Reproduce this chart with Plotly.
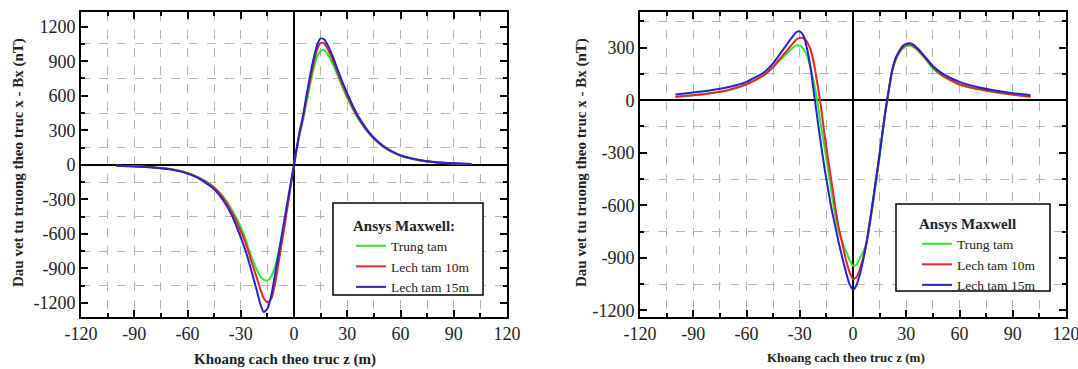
import plotly.graph_objects as go

# ---------------- data ----------------
series_names = ["Trung tam", "Lech tam 10m", "Lech tam 15m"]
series_colors = ["#2ee82e", "#e3262a", "#2424c8"]

z_left = [-100, -90, -80, -70, -65, -60, -55, -50, -45, -40, -35, -30, -27, -24, -21, -19, -17, -15,
          -13, -11, -9, -7, -5, -3, 0, 3, 5, 7, 9, 11, 13, 15, 17, 19, 22, 25, 30, 35,
          40, 45, 50, 55, 60, 70, 80, 90, 100]
left_trung_tam = [-8, -13, -21, -36, -50, -70, -100, -140, -195, -275, -390, -540, -660, -800, -910, -970,
                  -1000, -1005, -975, -900, -790, -640, -470, -290, 0, 250, 380, 540, 690, 830,
                  940, 990, 995, 960, 870, 760, 580, 430, 315, 225, 160, 112, 78, 40, 21, 12, 6]
left_lech_10 = [-8, -13, -22, -37, -52, -72, -103, -145, -200, -285, -410, -575, -690, -840, -980, -1080,
                -1160, -1195, -1170, -1060, -880, -690, -500, -300, 0, 260, 400, 570, 730, 880,
                1000, 1060, 1055, 1005, 905, 785, 600, 440, 320, 228, 162, 114, 80, 42, 22, 12, 6]
left_lech_15 = [-9, -14, -23, -39, -55, -76, -108, -155, -212, -305, -440, -630, -760, -920, -1090, -1210,
                -1280, -1250, -1150, -980, -800, -620, -440, -260, 0, 280, 420, 600, 770, 920,
                1040, 1098, 1090, 1040, 935, 810, 620, 455, 330, 235, 168, 118, 83, 44, 23, 13, 7]

z_right = [-100, -90, -80, -70, -60, -50, -45, -40, -35, -32, -30, -28, -26, -24, -22, -20,
           -18, -16, -14, -12, -10, -8, -6, -4, -2, 0, 2, 4, 6, 8, 10, 12, 14, 16, 18, 20,
           22, 24, 26, 28, 30, 32, 34, 37, 40, 45, 50, 60, 70, 80, 90, 100]
right_trung_tam = [20, 29, 41, 59, 92, 145, 188, 240, 290, 313, 312, 295, 255, 190, 100, -10,
                   -150, -270, -400, -530, -660, -750, -810, -860, -910, -945, -940, -900, -860,
                   -800, -680, -540, -400, -245, -90, 40, 160, 228, 268, 294, 308, 312, 305,
                   280, 244, 182, 140, 88, 62, 45, 31, 21]
right_lech_10 = [19, 28, 40, 58, 91, 145, 190, 250, 310, 345, 356, 355, 335, 290, 210, 90,
                 -40, -200, -340, -470, -610, -730, -820, -910, -980, -1022, -1010, -960, -890,
                 -790, -660, -520, -380, -230, -80, 50, 165, 235, 275, 302, 316, 318, 310,
                 285, 250, 188, 145, 91, 65, 47, 32, 20]
right_lech_15 = [33, 44, 57, 75, 105, 160, 210, 280, 350, 388, 393, 370, 300, 190, 40, -110,
                 -255, -390, -510, -625, -720, -815, -900, -980, -1050, -1082, -1055, -990,
                 -900, -790, -660, -520, -380, -230, -80, 50, 170, 240, 280, 310, 322, 325,
                 318, 290, 255, 195, 155, 105, 75, 55, 40, 29]

x_ticks = [-120, -90, -60, -30, 0, 30, 60, 90, 120]
left_y_ticks = [-1200, -900, -600, -300, 0, 300, 600, 900, 1200]
right_y_ticks = [-1200, -900, -600, -300, 0, 300]

x_title = "Khoang cach theo truc z (m)"
y_title = "Dau vet tu truong theo truc x - Bx (nT)"
left_legend_title = "Ansys Maxwell:"
right_legend_title = "Ansys Maxwell"

# ---------------- figure ----------------
W, H = 1078, 369
FONT = "Liberation Serif"

fig = go.Figure()

left_series = [left_trung_tam, left_lech_10, left_lech_15]
right_series = [right_trung_tam, right_lech_10, right_lech_15]

for name, col, ys in zip(series_names, series_colors, left_series):
    fig.add_trace(go.Scatter(x=z_left, y=ys, mode="lines", name=name,
                             line=dict(color=col, width=2, shape="spline", smoothing=0.6),
                             xaxis="x", yaxis="y", legend="legend"))
for name, col, ys in zip(series_names, series_colors, right_series):
    fig.add_trace(go.Scatter(x=z_right, y=ys, mode="lines", name=name,
                             line=dict(color=col, width=2, shape="spline", smoothing=0.6),
                             xaxis="x2", yaxis="y2", legend="legend2"))

tickfont = dict(family=FONT, size=18, color="#222")


def xaxis(domain, anchor):
    return dict(domain=domain, anchor=anchor, range=[-120, 120], automargin=False,
                ticklabeloverflow="allow",
                tickmode="array", tickvals=x_ticks, ticktext=[str(v) for v in x_ticks],
                ticks="inside", ticklen=7, tickwidth=1.5, tickcolor="black",
                showline=True, linecolor="black", linewidth=2, mirror="allticks",
                showgrid=False, zeroline=True, zerolinecolor="black", zerolinewidth=1.5,
                tickfont=tickfont,
                minor=dict(tick0=-105, dtick=15, ticks="inside", ticklen=4, tickwidth=1.5,
                           tickcolor="black", showgrid=True, gridcolor="#b4b4b4",
                           griddash="dash", gridwidth=1))


def yaxis(domain, anchor, rng, ticks):
    return dict(domain=domain, anchor=anchor, range=rng, automargin=False,
                ticklabeloverflow="allow",
                tickmode="array", tickvals=ticks, ticktext=[str(v) for v in ticks],
                ticks="inside", ticklen=7, tickwidth=1.5, tickcolor="black",
                showline=True, linecolor="black", linewidth=2, mirror="allticks",
                showgrid=False, zeroline=True, zerolinecolor="black", zerolinewidth=1.5,
                tickfont=tickfont,
                minor=dict(tick0=150, dtick=300, ticks="inside", ticklen=4, tickwidth=1.5,
                           tickcolor="black", showgrid=True, gridcolor="#b4b4b4",
                           griddash="dash", gridwidth=1))


ydom = [1 - 316.5 / H, 1 - 12.3 / H]
legend_common = dict(bgcolor="rgba(0,0,0,0)", borderwidth=0,
                     font=dict(family=FONT, size=13.5, color="#222"),
                     xanchor="left", yanchor="top", itemwidth=30,
                     tracegroupgap=0)

fig.update_layout(
    width=W, height=H,
    margin=dict(l=0, r=0, t=0, b=0, autoexpand=False),
    paper_bgcolor="white", plot_bgcolor="white",
    showlegend=True,
    xaxis=xaxis([81 / W, 507 / W], "y"),
    yaxis=yaxis(ydom, "x", [-1318, 1325], left_y_ticks),
    xaxis2=xaxis([640 / W, 1066 / W], "y2"),
    yaxis2=yaxis(ydom, "x2", [-1235, 502], right_y_ticks),
    legend=dict(x=351 / W, y=1 - 211 / H,
                title=dict(text="<b>" + left_legend_title + "</b>",
                           font=dict(family=FONT, size=15, color="#222")),
                **legend_common),
    legend2=dict(x=917 / W, y=1 - 209 / H,
                 title=dict(text="<b>" + right_legend_title + "</b>",
                            font=dict(family=FONT, size=15, color="#222")),
                 **legend_common),
)

# legend frames (white boxes with black border)
fig.add_shape(type="rect", xref="paper", yref="paper",
              x0=333 / W, x1=483 / W, y0=1 - 295 / H, y1=1 - 203 / H,
              fillcolor="white", line=dict(color="black", width=1.5), layer="above")
fig.add_shape(type="rect", xref="paper", yref="paper",
              x0=896 / W, x1=1050 / W, y0=1 - 291 / H, y1=1 - 204 / H,
              fillcolor="white", line=dict(color="black", width=1.5), layer="above")

# axis titles as annotations
fig.add_annotation(text="<b>" + x_title + "</b>", xref="paper", yref="paper",
                   x=285 / W, y=1 - 359 / H, xanchor="center", yanchor="middle",
                   showarrow=False, font=dict(family=FONT, size=15, color="#222"))
fig.add_annotation(text="<b>" + x_title + "</b>", xref="paper", yref="paper",
                   x=846 / W, y=1 - 357 / H, xanchor="center", yanchor="middle",
                   showarrow=False, font=dict(family=FONT, size=13, color="#222"))
fig.add_annotation(text="<b>" + y_title + "</b>", xref="paper", yref="paper",
                   x=18 / W, y=1 - 163 / H, xanchor="center", yanchor="middle",
                   textangle=-90, showarrow=False,
                   font=dict(family=FONT, size=15, color="#222"))
fig.add_annotation(text="<b>" + y_title + "</b>", xref="paper", yref="paper",
                   x=581 / W, y=1 - 163 / H, xanchor="center", yanchor="middle",
                   textangle=-90, showarrow=False,
                   font=dict(family=FONT, size=15, color="#222"))

fig.write_html("out.html",
               config={"displayModeBar": False},
               post_script="document.body.style.margin='0';"
                           "document.body.style.overflow='hidden';")
